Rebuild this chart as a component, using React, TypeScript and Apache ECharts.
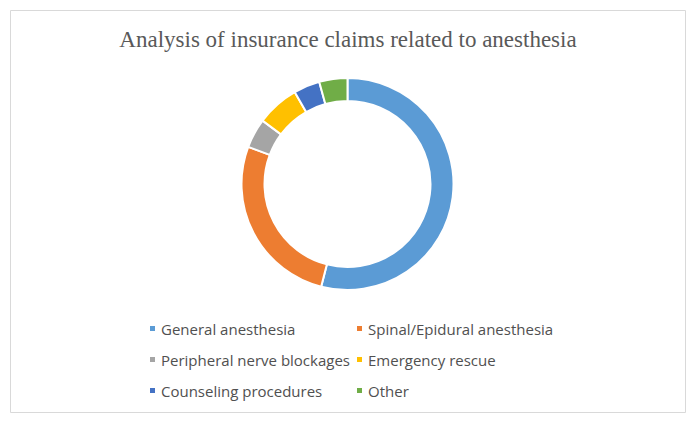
import React, { useEffect, useRef } from "react";
import * as echarts from "echarts";

const categories = [
  "General anesthesia",
  "Spinal/Epidural anesthesia",
  "Peripheral nerve blockages",
  "Emergency rescue",
  "Counseling procedures",
  "Other",
];
const values = [54, 26.7, 4.5, 6.5, 4, 4.3];
const colors = ["#5B9BD5", "#ED7D31", "#A5A5A5", "#FFC000", "#4472C4", "#70AD47"];
const leftColumn = [categories[0], categories[2], categories[4]];
const rightColumn = [categories[1], categories[3], categories[5]];

export default function App() {
  const ref = useRef<HTMLDivElement>(null);
  useEffect(() => {
    if (!ref.current) return;
    const chart = echarts.init(ref.current, undefined, { renderer: "svg" });
    const legendCommon = {
      orient: "vertical" as const,
      icon: "rect",
      itemWidth: 7,
      itemHeight: 7,
      itemGap: 16,
      top: 316,
      textStyle: { color: "#505050", fontSize: 15, fontFamily: "Open Sans", padding: [0, 0, 0, 0] },
      selectedMode: false,
    };
    chart.setOption({
      animation: false,
      color: colors,
      title: {
        text: "Analysis of insurance claims related to anesthesia",
        left: "center",
        top: 23,
        textStyle: {
          color: "#595959",
          fontSize: 23,
          fontWeight: "normal",
          fontFamily: "Liberation Serif",
        },
      },
      legend: [
        { ...legendCommon, left: 143, data: leftColumn },
        { ...legendCommon, left: 350, data: rightColumn },
      ],
      graphic: [
        {
          type: "rect",
          shape: { x: 10.5, y: 10.5, width: 675, height: 402 },
          style: { fill: "none", stroke: "#D9D9D9", lineWidth: 1 },
          silent: true,
        },
      ],
      series: [
        {
          type: "pie",
          center: [347.5, 184],
          radius: [83, 106],
          startAngle: 90,
          clockwise: true,
          label: { show: false },
          labelLine: { show: false },
          itemStyle: { borderColor: "#fff", borderWidth: 2 },
          emphasis: { disabled: true },
          data: categories.map((name, i) => ({ name, value: values[i] })),
        },
      ],
    });
    return () => chart.dispose();
  }, []);
  return (
    <div
      ref={ref}
      style={{ position: "fixed", left: 0, top: 0, width: 696, height: 430, background: "#fff" }}
    />
  );
}
